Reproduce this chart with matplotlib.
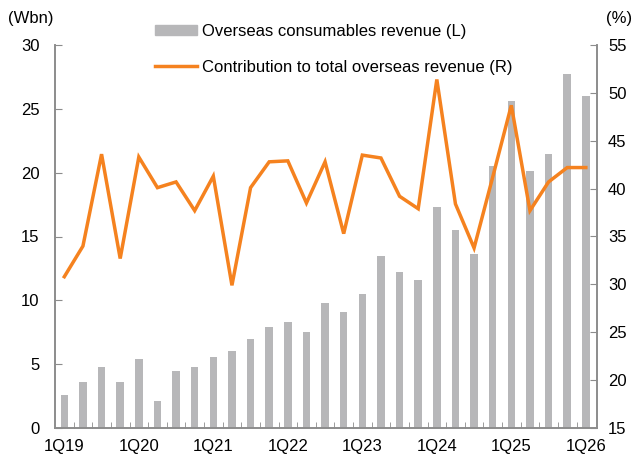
import numpy as np
import matplotlib.pyplot as plt
from matplotlib.patches import Patch
from matplotlib.lines import Line2D

plt.rcParams['font.family'] = ['Liberation Sans', 'DejaVu Sans']

quarters = [f"{q}Q{y}" for y in range(19, 27) for q in range(1, 5)][:29]
revenue = [2.6, 3.6, 4.8, 3.6, 5.4, 2.1, 4.5, 4.8, 5.6, 6.0, 7.0, 7.9, 8.3, 7.5,
           9.8, 9.1, 10.5, 13.5, 12.2, 11.6, 17.3, 15.5, 13.6, 20.5, 25.6, 20.1,
           21.5, 27.7, 26.0]
contrib = [30.8, 34.0, 43.6, 32.7, 43.3, 40.1, 40.7, 37.7, 41.3, 29.9, 40.1, 42.8,
           42.9, 38.5, 42.8, 35.3, 43.5, 43.2, 39.2, 37.9, 51.4, 38.4, 33.8, 41.2,
           48.7, 37.7, 40.7, 42.2, 42.2]
tick_labels = ["1Q19", "1Q20", "1Q21", "1Q22", "1Q23", "1Q24", "1Q25", "1Q26"]

grey = "#b7b7b9"
orange = "#f5821f"
spine_c = "#8c8c8c"

fig = plt.figure(figsize=(6.41, 4.63), dpi=100)
ax = fig.add_axes([55/641, 1-428/463, (597-55)/641, (428-45)/463])
ax2 = ax.twinx()

x = np.arange(len(quarters))
ax.bar(x, revenue, width=0.4, color=grey, zorder=1)
ax2.plot(x, contrib, color=orange, lw=2.5, solid_joinstyle='miter', zorder=3)

ax.set_xlim(-0.5, 28.6)
ax.set_ylim(0, 30)
ax2.set_ylim(15, 55)
ax.set_yticks(range(0, 31, 5))
ax2.set_yticks(range(15, 56, 5))

ax.set_xticks(np.arange(0, 29, 4))
ax.set_xticklabels(tick_labels)
ax.set_xticks(np.arange(0.5, 28.5, 1), minor=True)
ax.tick_params(axis='x', which='major', length=0, pad=8, labelsize=12)
ax.tick_params(axis='x', which='minor', direction='in', length=4, color=spine_c)
ax.tick_params(axis='y', direction='in', length=5, color=spine_c, pad=11, labelsize=12)
ax2.tick_params(axis='y', direction='in', length=5, color=spine_c, pad=8, labelsize=12)

for a in (ax, ax2):
    a.spines['top'].set_visible(False)
    for s in ('left', 'right', 'bottom'):
        a.spines[s].set_color(spine_c)
        a.spines[s].set_linewidth(1.2)
ax2.set_zorder(ax.get_zorder() + 1)
ax2.patch.set_visible(False)

fig.text(8/641, 1-18/463, "(Wbn)", fontsize=12, va='center', ha='left')
fig.text(632/641, 1-18/463, "(%)", fontsize=12, va='center', ha='right')

handles = [Patch(color=grey), Line2D([], [], color=orange, lw=2.5)]
labels = ["Overseas consumables revenue (L)", "Contribution to total overseas revenue (R)"]
fig.legend(handles, labels, loc='upper left', bbox_to_anchor=(155/641, 1-24/463),
           frameon=False, fontsize=12, borderpad=0, borderaxespad=0,
           handlelength=2.5, handleheight=0.55, handletextpad=0.3, labelspacing=1.25)

fig.savefig("out.png", dpi=100)
